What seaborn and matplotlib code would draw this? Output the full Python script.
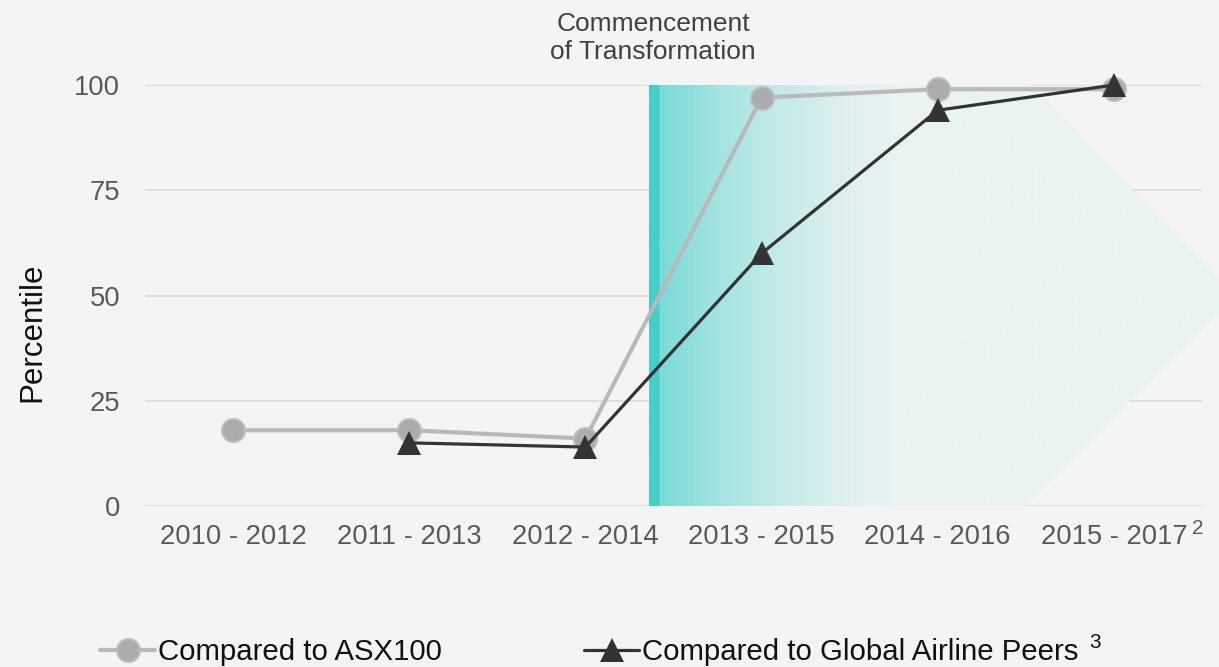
import numpy as np
import matplotlib
matplotlib.use("Agg")
import matplotlib.pyplot as plt
import matplotlib.transforms as mtransforms
from matplotlib.patches import Polygon
from matplotlib.colors import to_rgb
import seaborn as sns

# ---- data ----
periods = ["2010 - 2012", "2011 - 2013", "2012 - 2014",
           "2013 - 2015", "2014 - 2016", "2015 - 2017"]
asx100 = [18, 18, 16, 97, 99, 99]
airline_peers = [np.nan, 15, 14, 60, 94, 100]
series_labels = ["Compared to ASX100", "Compared to Global Airline Peers"]
y_ticks = [0, 25, 50, 75, 100]
transformation_start = 2.36   # between 2012-2014 and 2013-2015
annotation = "Commencement\nof Transformation"

# ---- style ----
BG = "#f4f4f4"
sns.set_style("white", {"axes.facecolor": BG, "figure.facecolor": BG})
plt.rcParams["font.family"] = ["Liberation Sans", "DejaVu Sans"]

W, H = 1219, 667
fig = plt.figure(figsize=(W / 100, H / 100), dpi=100)
ax = fig.add_axes([145 / W, 1 - 506 / H, (1202 - 145) / W, (506 - 85) / H])
ax.set_facecolor(BG)

# ---- gradient chevron behind the lines ----
x0, x_tip = transformation_start, 5.69
x_top, x_bot = 4.53, 4.49
ncols = 900
xs = np.linspace(x0, x_tip, ncols)
stop_x = [x0, x0 + 0.056, x0 + 0.057, 2.7, 3.1, 3.5, 3.8, x_tip]
stop_c = ["#44cfcb", "#44cfcb", "#7adbd7", "#9de2df", "#c4ebe9",
          "#e0f0ef", "#e9f3f2", "#e9f3f2"]
stop_rgb = np.array([to_rgb(c) for c in stop_c])
grad = np.stack([np.interp(xs, stop_x, stop_rgb[:, k]) for k in range(3)], axis=-1)
grad = grad[np.newaxis, :, :]
im = ax.imshow(grad, extent=(x0, x_tip, 0, 100), aspect="auto",
               origin="lower", interpolation="bilinear", zorder=1)
chevron = Polygon([(x0, 0), (x0, 100), (x_top, 100), (x_tip, 50), (x_bot, 0)],
                  closed=True, transform=ax.transData, facecolor="none",
                  edgecolor="none")
im.set_clip_path(chevron)
im.set_clip_box(fig.bbox)

# ---- lines ----
sns.lineplot(x=periods, y=asx100, ax=ax, color="#b9b9b9", linewidth=3.0,
             marker="o", markersize=16.5, markerfacecolor="#acacac",
             markeredgecolor="#bdbdbd", markeredgewidth=1.5,
             label=series_labels[0], clip_on=False, zorder=3)
sns.lineplot(x=periods, y=airline_peers, ax=ax, color="#333333", linewidth=2.3,
             marker="^", markersize=17, markerfacecolor="#333333",
             markeredgecolor="#333333", markeredgewidth=0,
             label=series_labels[1], clip_on=False, zorder=4)

# ---- axes ----
ax.set_xlim(-0.5, 5.5)
ax.set_ylim(0, 100)
ax.set_yticks(y_ticks)
ax.set_xticks(range(len(periods)))
ax.set_xticklabels(periods)
ax.yaxis.grid(True, color="#dcdcdc", linewidth=1.3, zorder=0)
ax.xaxis.grid(False)
ax.set_axisbelow(True)
for s in ax.spines.values():
    s.set_visible(False)
ax.tick_params(axis="x", length=0, pad=13, labelsize=19.7, labelcolor="#595959")
ax.tick_params(axis="y", length=0, pad=18, labelsize=19.7, labelcolor="#595959")
ax.set_xlabel("")
ax.set_ylabel("")

fig.text(32 / W, 1 - 332 / H, "Percentile", rotation=90, ha="center",
         va="center", fontsize=22.5, color="#111111")

# annotation above the start of the transformation
blend = mtransforms.blended_transform_factory(ax.transData, fig.transFigure)
ax.text(transformation_start + 0.025, 1 - 38 / H, annotation, transform=blend,
        ha="center", va="center", fontsize=19, color="#404040",
        linespacing=1.2)

# footnote markers
fig.text(1198 / W, 1 - 529 / H, "2", ha="center", va="center",
         fontsize=15, color="#595959")

# ---- legend ----
handles, labels = ax.get_legend_handles_labels()
leg = ax.legend(handles, labels, loc="center left",
                bbox_to_anchor=(100 / W, 1 - 652 / H),
                bbox_transform=fig.transFigure, ncol=2, frameon=False,
                fontsize=21.2, handlelength=1.87, handletextpad=0.1,
                columnspacing=4.83, borderpad=0, borderaxespad=0)
for t in leg.get_texts():
    t.set_color("#111111")
fig.text(1095 / W, 1 - 643 / H, "3", ha="center", va="center",
         fontsize=15, color="#111111")

fig.savefig("out.png", dpi=100, facecolor=BG)
